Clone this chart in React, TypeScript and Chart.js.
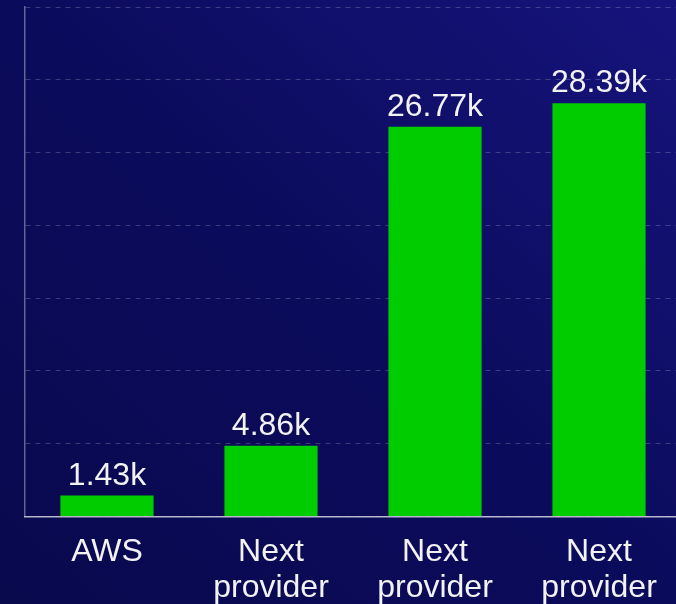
import React, { useEffect, useRef } from "react";
import { Chart, registerables } from "chart.js";

Chart.register(...registerables);

const categories: string[][] = [["AWS"], ["Next", "provider"], ["Next", "provider"], ["Next", "provider"]];
const values: number[] = [1.43, 4.86, 26.77, 28.39];
const yMax = 35;
const yStep = 5;

const FONT = '"Liberation Sans", Arial, sans-serif';

const valueLabels = {
  id: "valueLabels",
  afterDatasetsDraw(chart: any) {
    const ctx = chart.ctx;
    const meta = chart.getDatasetMeta(0);
    ctx.save();
    ctx.font = "32px " + FONT;
    ctx.fillStyle = "#f2f2f2";
    ctx.textAlign = "center";
    ctx.textBaseline = "alphabetic";
    meta.data.forEach((el: any, i: number) => {
      const v = chart.data.datasets[0].data[i] as number;
      ctx.fillText(v.toFixed(2) + "k", el.x, el.y - 11);
    });
    ctx.restore();
  },
};

export default function App() {
  const ref = useRef<HTMLCanvasElement>(null);
  useEffect(() => {
    if (!ref.current) return;
    const chart = new Chart(ref.current, {
      type: "bar",
      data: {
        labels: categories,
        datasets: [
          {
            data: values,
            backgroundColor: "#00cc00",
            borderWidth: 0,
            categoryPercentage: 0.8,
            barPercentage: 0.71,
          },
        ],
      },
      options: {
        animation: false,
        responsive: false,
        maintainAspectRatio: false,
        layout: { padding: { left: 25, top: 7, right: 3, bottom: 0 } },
        plugins: { legend: { display: false }, tooltip: { enabled: false } },
        scales: {
          x: {
            grid: { display: false, drawTicks: false },
            border: { display: true, color: "rgba(210,210,225,0.85)", width: 1.5 },
            ticks: {
              color: "#f2f2f2",
              font: { size: 32, family: FONT, lineHeight: 1.15 },
              padding: 17,
              maxRotation: 0,
              autoSkip: false,
            },
          },
          y: {
            min: 0,
            max: yMax,
            ticks: { display: false, stepSize: yStep },
            grid: { color: "rgba(255,255,255,0.2)", drawTicks: false, lineWidth: 1 },
            border: { display: true, color: "rgba(190,190,210,0.5)", width: 1.5, dash: [5, 5] },
          },
        },
      },
      plugins: [valueLabels],
    });
    return () => chart.destroy();
  }, []);
  return (
    <div
      style={{
        position: "fixed",
        left: 0,
        top: 0,
        width: 676,
        height: 604,
        overflow: "hidden",
        background: "linear-gradient(to top right, #09094e 0%, #0b0b5c 50%, #16147c 100%)",
      }}
    >
      <canvas ref={ref} width={684} height={624} style={{ display: "block" }} />
    </div>
  );
}
